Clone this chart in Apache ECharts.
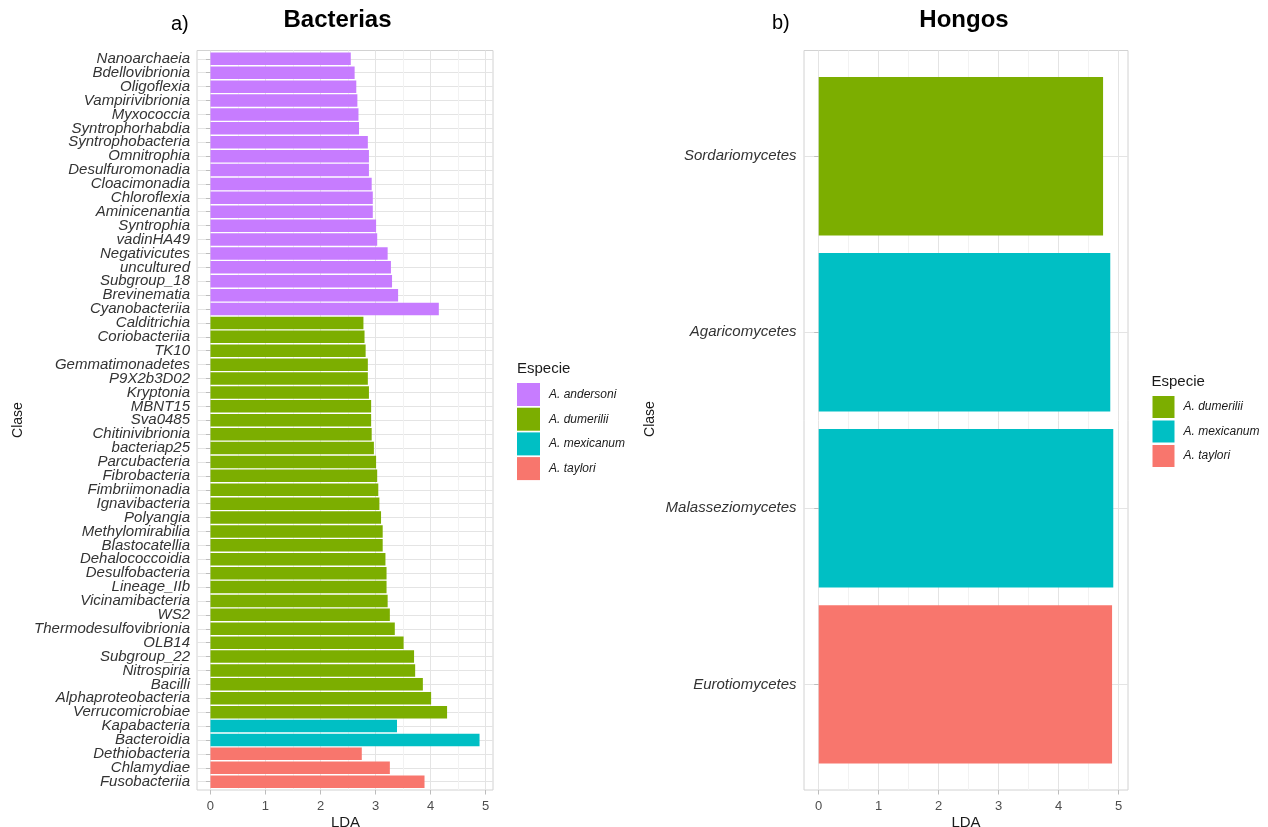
<!DOCTYPE html>
<html>
<head>
<meta charset="utf-8">
<script src="https://cdn.jsdelivr.net/npm/echarts@6/dist/echarts.min.js"></script>
<style>
html,body{margin:0;padding:0;background:#fff;}
#chart{width:1268px;height:827px;}
</style>
</head>
<body>
<div id="chart"></div>
<script>
// ---------- DATA ----------
const speciesNames = ['A. andersoni', 'A. dumerilii', 'A. mexicanum', 'A. taylori'];
const speciesColors = ['#C77CFF', '#7CAE00', '#00BFC4', '#F8766D'];

const bactAndersoniClasses = ['Nanoarchaeia','Bdellovibrionia','Oligoflexia','Vampirivibrionia','Myxococcia','Syntrophorhabdia','Syntrophobacteria','Omnitrophia','Desulfuromonadia','Cloacimonadia','Chloroflexia','Aminicenantia','Syntrophia','vadinHA49','Negativicutes','uncultured','Subgroup_18','Brevinematia','Cyanobacteriia'];
const bactAndersoniLDA = [2.55, 2.62, 2.65, 2.67, 2.69, 2.70, 2.86, 2.88, 2.88, 2.93, 2.95, 2.95, 3.01, 3.03, 3.22, 3.28, 3.30, 3.41, 4.15];

const bactDumeriliiClasses = ['Calditrichia','Coriobacteriia','TK10','Gemmatimonadetes','P9X2b3D02','Kryptonia','MBNT15','Sva0485','Chitinivibrionia','bacteriap25','Parcubacteria','Fibrobacteria','Fimbriimonadia','Ignavibacteria','Polyangia','Methylomirabilia','Blastocatellia','Dehalococcoidia','Desulfobacteria','Lineage_IIb','Vicinamibacteria','WS2','Thermodesulfovibrionia','OLB14','Subgroup_22','Nitrospiria','Bacilli','Alphaproteobacteria','Verrucomicrobiae'];
const bactDumeriliiLDA = [2.78, 2.80, 2.82, 2.86, 2.86, 2.88, 2.92, 2.92, 2.93, 2.97, 3.01, 3.03, 3.05, 3.07, 3.10, 3.13, 3.13, 3.18, 3.20, 3.20, 3.22, 3.26, 3.35, 3.51, 3.70, 3.72, 3.86, 4.01, 4.30];

const bactMexicanumClasses = ['Kapabacteria','Bacteroidia'];
const bactMexicanumLDA = [3.39, 4.89];

const bactTayloriClasses = ['Dethiobacteria','Chlamydiae','Fusobacteriia'];
const bactTayloriLDA = [2.75, 3.26, 3.89];

const fungiClasses = ['Sordariomycetes','Agaricomycetes','Malasseziomycetes','Eurotiomycetes'];
const fungiLDA = [4.74, 4.86, 4.91, 4.89];
const fungiSpecies = ['A. dumerilii','A. mexicanum','A. mexicanum','A. taylori'];

const xTickValues = [0, 1, 2, 3, 4, 5];

// ---------- build tables ----------
const bactClasses = [].concat(bactAndersoniClasses, bactDumeriliiClasses, bactMexicanumClasses, bactTayloriClasses);
const bactLDA = [].concat(bactAndersoniLDA, bactDumeriliiLDA, bactMexicanumLDA, bactTayloriLDA);
const bactSpecies = [].concat(
  bactAndersoniClasses.map(() => speciesNames[0]),
  bactDumeriliiClasses.map(() => speciesNames[1]),
  bactMexicanumClasses.map(() => speciesNames[2]),
  bactTayloriClasses.map(() => speciesNames[3])
);

const FONT = '"Liberation Sans", Arial, Helvetica, sans-serif';
const GRID_MAJOR = '#e4e4e4';
const GRID_MINOR = '#f2f2f2';
const BORDER = '#d2d2d2';
const TICK = '#bdbdbd';

const grids = [], xAxes = [], yAxes = [], series = [];

function addPanel(p) {
  const N = p.classes.length;
  const maxV = Math.max.apply(null, p.values);
  const lo = -0.05 * maxV, hi = 1.05 * maxV;
  const toPx = v => p.left + (v - lo) / (hi - lo) * p.width;
  const unit = p.height / (N + 0.2);
  const tMin = xTickValues[0], tMax = xTickValues[xTickValues.length - 1];

  // grid: panel border
  const gBorder = grids.length;
  grids.push({left: p.left, top: p.top, width: p.width, height: p.height, show: true,
    borderColor: BORDER, borderWidth: 1, backgroundColor: 'transparent', containLabel: false, outerBoundsMode: 'none'});
  xAxes.push({gridIndex: gBorder, type: 'value', show: false, min: 0, max: 1});
  yAxes.push({gridIndex: gBorder, type: 'value', show: false, min: 0, max: 1});

  // grid: vertical grid lines + x tick labels
  const gX = grids.length;
  const x0 = toPx(tMin), x1 = toPx(tMax);
  grids.push({left: x0, top: p.top, width: x1 - x0, height: p.height, show: false, containLabel: false, outerBoundsMode: 'none'});
  xAxes.push({gridIndex: gX, type: 'value', min: tMin, max: tMax, interval: 1,
    axisLine: {show: false},
    axisTick: {show: true, length: 4.5, lineStyle: {color: TICK, width: 1}},
    axisLabel: {show: true, margin: 9.5, fontSize: 13, color: '#4d4d4d', fontFamily: FONT},
    splitLine: {show: true, lineStyle: {color: GRID_MAJOR, width: 1}},
    minorTick: {show: false, splitNumber: 2},
    minorSplitLine: {show: true, lineStyle: {color: GRID_MINOR, width: 1}}
  });
  yAxes.push({gridIndex: gX, type: 'value', show: false, min: 0, max: 1});

  // grid: categories + bars
  const gC = grids.length;
  grids.push({left: p.left, top: p.top + 0.6 * unit, width: p.width, height: (N - 1) * unit, show: false, containLabel: false, outerBoundsMode: 'none'});
  xAxes.push({gridIndex: gC, type: 'value', show: false, min: lo, max: hi});
  yAxes.push({gridIndex: gC, type: 'category', data: p.classes, inverse: true, boundaryGap: false,
    axisLine: {show: false},
    axisTick: {show: true, length: 4.5, lineStyle: {color: TICK, width: 1}},
    axisLabel: {show: true, interval: 0, margin: p.labelMargin, fontSize: 15, fontStyle: 'italic', color: '#333333', fontFamily: FONT},
    splitLine: {show: true, interval: 0, lineStyle: {color: GRID_MAJOR, width: 1}}
  });

  speciesNames.forEach((sp, i) => {
    if (p.species.indexOf(sp) < 0) return;
    series.push({
      type: 'bar', name: sp, xAxisIndex: gC, yAxisIndex: gC,
      barWidth: '90%', barGap: '-100%',
      itemStyle: {color: speciesColors[i]},
      emphasis: {disabled: true},
      data: p.values.map((v, k) => p.species[k] === sp ? v : '-')
    });
  });
}

addPanel({classes: bactClasses, values: bactLDA, species: bactSpecies,
  left: 197, top: 50.5, width: 296, height: 739.5, labelMargin: 7});
addPanel({classes: fungiClasses, values: fungiLDA, species: fungiSpecies,
  left: 804, top: 50.5, width: 324, height: 739.5, labelMargin: 7.5});

const legendCommon = {
  orient: 'vertical', icon: 'rect', padding: 0, selectedMode: false,
  textStyle: {fontSize: 12, fontStyle: 'italic', color: '#1a1a1a', fontFamily: FONT, padding: [0, 0, 0, 4]}
};

const option = {
  animation: false,
  backgroundColor: '#ffffff',
  textStyle: {fontFamily: FONT},
  grid: grids, xAxis: xAxes, yAxis: yAxes, series: series,
  legend: [
    Object.assign({}, legendCommon, {data: speciesNames, left: 517, top: 383, itemWidth: 23, itemHeight: 23, itemGap: 1.7}),
    Object.assign({}, legendCommon, {data: speciesNames.slice(1), left: 1152.5, top: 396, itemWidth: 22, itemHeight: 22, itemGap: 2.5})
  ],
  graphic: [
    {type: 'text', x: 171, y: 24, style: {text: 'a)', font: '20px ' + FONT, fill: '#000', textAlign: 'left', textVerticalAlign: 'middle'}},
    {type: 'text', x: 337.5, y: 20.5, style: {text: 'Bacterias', font: 'bold 24px ' + FONT, fill: '#000', textAlign: 'center', textVerticalAlign: 'middle'}},
    {type: 'text', x: 772, y: 23, style: {text: 'b)', font: '20px ' + FONT, fill: '#000', textAlign: 'left', textVerticalAlign: 'middle'}},
    {type: 'text', x: 964, y: 20.5, style: {text: 'Hongos', font: 'bold 24px ' + FONT, fill: '#000', textAlign: 'center', textVerticalAlign: 'middle'}},
    {type: 'text', x: 18, y: 420, rotation: Math.PI / 2, style: {text: 'Clase', font: '14px ' + FONT, fill: '#1a1a1a', textAlign: 'center', textVerticalAlign: 'middle'}},
    {type: 'text', x: 650, y: 419, rotation: Math.PI / 2, style: {text: 'Clase', font: '14px ' + FONT, fill: '#1a1a1a', textAlign: 'center', textVerticalAlign: 'middle'}},
    {type: 'text', x: 345.5, y: 823, style: {text: 'LDA', font: '15px ' + FONT, fill: '#1a1a1a', textAlign: 'center', textVerticalAlign: 'middle'}},
    {type: 'text', x: 966, y: 823, style: {text: 'LDA', font: '15px ' + FONT, fill: '#1a1a1a', textAlign: 'center', textVerticalAlign: 'middle'}},
    {type: 'text', x: 517, y: 369, style: {text: 'Especie', font: '15px ' + FONT, fill: '#1a1a1a', textAlign: 'left', textVerticalAlign: 'middle'}},
    {type: 'text', x: 1151.5, y: 381.5, style: {text: 'Especie', font: '15px ' + FONT, fill: '#1a1a1a', textAlign: 'left', textVerticalAlign: 'middle'}}
  ]
};

const chart = echarts.init(document.getElementById('chart'), null, {renderer: 'canvas'});
chart.setOption(option);
</script>
</body>
</html>
